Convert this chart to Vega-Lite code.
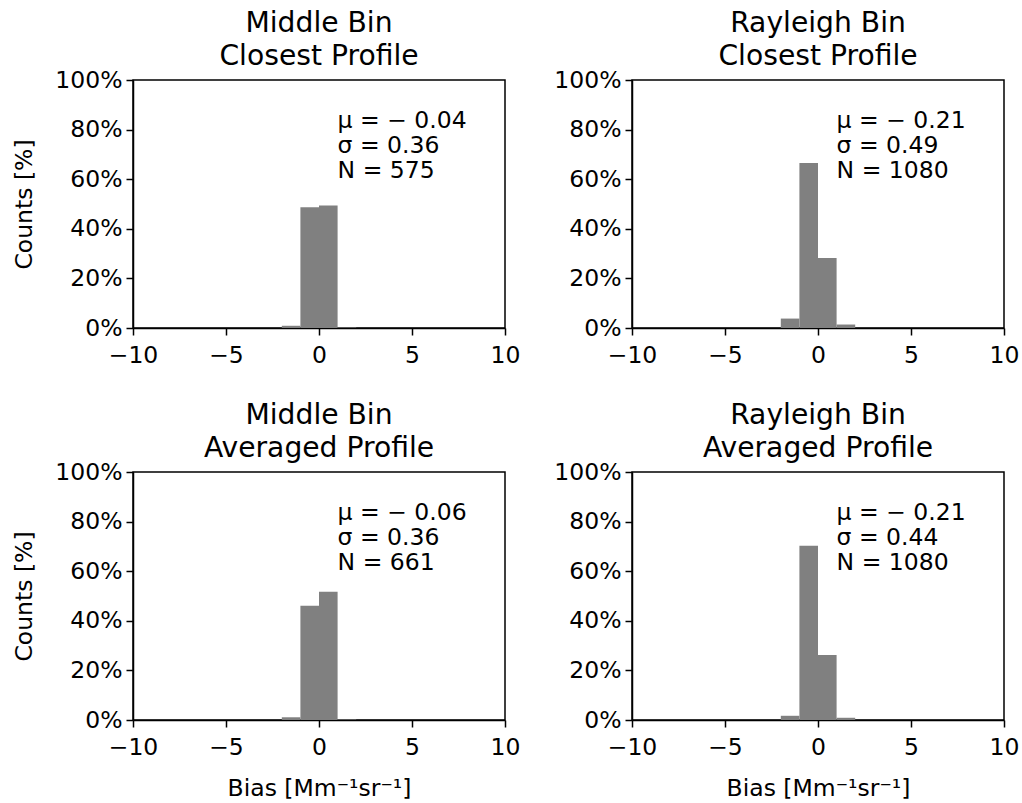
{
  "$schema": "https://vega.github.io/schema/vega-lite/v6.json",
  "background": "white",
  "padding": {"left": 12, "top": 8, "right": 5, "bottom": 5},
  "datasets": {
    "hist": [
      {"panel": "mc", "bin_start": -2, "bin_end": -1, "pct": 0.9},
      {"panel": "mc", "bin_start": -1, "bin_end": 0, "pct": 48.7},
      {"panel": "mc", "bin_start": 0, "bin_end": 1, "pct": 49.4},
      {"panel": "mc", "bin_start": 1, "bin_end": 2, "pct": 0.2},
      {"panel": "rc", "bin_start": -2, "bin_end": -1, "pct": 3.8},
      {"panel": "rc", "bin_start": -1, "bin_end": 0, "pct": 66.5},
      {"panel": "rc", "bin_start": 0, "bin_end": 1, "pct": 28.2},
      {"panel": "rc", "bin_start": 1, "bin_end": 2, "pct": 1.4},
      {"panel": "ma", "bin_start": -2, "bin_end": -1, "pct": 1.1},
      {"panel": "ma", "bin_start": -1, "bin_end": 0, "pct": 46.1},
      {"panel": "ma", "bin_start": 0, "bin_end": 1, "pct": 51.7},
      {"panel": "ma", "bin_start": 1, "bin_end": 2, "pct": 0.2},
      {"panel": "ra", "bin_start": -2, "bin_end": -1, "pct": 1.7},
      {"panel": "ra", "bin_start": -1, "bin_end": 0, "pct": 70.3},
      {"panel": "ra", "bin_start": 0, "bin_end": 1, "pct": 26.2},
      {"panel": "ra", "bin_start": 1, "bin_end": 2, "pct": 0.9}
    ]
  },
  "columns": 2,
  "bounds": "flush",
  "spacing": {"row": 144, "column": 127},
  "concat": [
    {
      "title": {"text": ["Middle Bin", "Closest Profile"]},
      "width": 372, "height": 248,
      "layer": [
        {
          "data": {"name": "hist"},
          "transform": [{"filter": "datum.panel === 'mc'"}],
          "mark": {"type": "rect", "color": "#808080"},
          "encoding": {
            "x": {"field": "bin_start", "type": "quantitative", "scale": {"domain": [-10, 10], "nice": false}, "axis": {"values": [-10, -5, 0, 5, 10], "title": null}},
            "x2": {"field": "bin_end"},
            "y": {"field": "pct", "type": "quantitative", "scale": {"domain": [0, 100], "nice": false}, "axis": {"values": [0, 20, 40, 60, 80, 100], "labelExpr": "datum.value + '%'", "title": "Counts [%]"}},
            "y2": {"datum": 0}
          }
        },
        {
          "data": {"values": [{}]},
          "mark": {"type": "text", "text": ["μ = − 0.04", "σ = 0.36", "N = 575"], "align": "left", "baseline": "alphabetic", "lineHeight": 25, "fontSize": 23.5, "color": "black"},
          "encoding": {"x": {"datum": 1, "type": "quantitative"}, "y": {"datum": 80.6, "type": "quantitative"}}
        }
      ]
    },
    {
      "title": {"text": ["Rayleigh Bin", "Closest Profile"]},
      "width": 372, "height": 248,
      "layer": [
        {
          "data": {"name": "hist"},
          "transform": [{"filter": "datum.panel === 'rc'"}],
          "mark": {"type": "rect", "color": "#808080"},
          "encoding": {
            "x": {"field": "bin_start", "type": "quantitative", "scale": {"domain": [-10, 10], "nice": false}, "axis": {"values": [-10, -5, 0, 5, 10], "title": null}},
            "x2": {"field": "bin_end"},
            "y": {"field": "pct", "type": "quantitative", "scale": {"domain": [0, 100], "nice": false}, "axis": {"values": [0, 20, 40, 60, 80, 100], "labelExpr": "datum.value + '%'", "title": null}},
            "y2": {"datum": 0}
          }
        },
        {
          "data": {"values": [{}]},
          "mark": {"type": "text", "text": ["μ = − 0.21", "σ = 0.49", "N = 1080"], "align": "left", "baseline": "alphabetic", "lineHeight": 25, "fontSize": 23.5, "color": "black"},
          "encoding": {"x": {"datum": 1, "type": "quantitative"}, "y": {"datum": 80.6, "type": "quantitative"}}
        }
      ]
    },
    {
      "title": {"text": ["Middle Bin", "Averaged Profile"]},
      "width": 372, "height": 248,
      "layer": [
        {
          "data": {"name": "hist"},
          "transform": [{"filter": "datum.panel === 'ma'"}],
          "mark": {"type": "rect", "color": "#808080"},
          "encoding": {
            "x": {"field": "bin_start", "type": "quantitative", "scale": {"domain": [-10, 10], "nice": false}, "axis": {"values": [-10, -5, 0, 5, 10], "title": "Bias [Mm⁻¹sr⁻¹]"}},
            "x2": {"field": "bin_end"},
            "y": {"field": "pct", "type": "quantitative", "scale": {"domain": [0, 100], "nice": false}, "axis": {"values": [0, 20, 40, 60, 80, 100], "labelExpr": "datum.value + '%'", "title": "Counts [%]"}},
            "y2": {"datum": 0}
          }
        },
        {
          "data": {"values": [{}]},
          "mark": {"type": "text", "text": ["μ = − 0.06", "σ = 0.36", "N = 661"], "align": "left", "baseline": "alphabetic", "lineHeight": 25, "fontSize": 23.5, "color": "black"},
          "encoding": {"x": {"datum": 1, "type": "quantitative"}, "y": {"datum": 80.6, "type": "quantitative"}}
        }
      ]
    },
    {
      "title": {"text": ["Rayleigh Bin", "Averaged Profile"]},
      "width": 372, "height": 248,
      "layer": [
        {
          "data": {"name": "hist"},
          "transform": [{"filter": "datum.panel === 'ra'"}],
          "mark": {"type": "rect", "color": "#808080"},
          "encoding": {
            "x": {"field": "bin_start", "type": "quantitative", "scale": {"domain": [-10, 10], "nice": false}, "axis": {"values": [-10, -5, 0, 5, 10], "title": "Bias [Mm⁻¹sr⁻¹]"}},
            "x2": {"field": "bin_end"},
            "y": {"field": "pct", "type": "quantitative", "scale": {"domain": [0, 100], "nice": false}, "axis": {"values": [0, 20, 40, 60, 80, 100], "labelExpr": "datum.value + '%'", "title": null}},
            "y2": {"datum": 0}
          }
        },
        {
          "data": {"values": [{}]},
          "mark": {"type": "text", "text": ["μ = − 0.21", "σ = 0.44", "N = 1080"], "align": "left", "baseline": "alphabetic", "lineHeight": 25, "fontSize": 23.5, "color": "black"},
          "encoding": {"x": {"datum": 1, "type": "quantitative"}, "y": {"datum": 80.6, "type": "quantitative"}}
        }
      ]
    }
  ],
  "config": {
    "font": "DejaVu Sans",
    "view": {"stroke": "black", "strokeWidth": 1.5},
    "axis": {
      "grid": false,
      "domainColor": "black",
      "domainWidth": 1.5,
      "tickColor": "black",
      "tickWidth": 1.5,
      "tickSize": 7,
      "labelFontSize": 23.5,
      "labelColor": "black",
      "labelPadding": 4,
      "labelFlush": false,
      "labelOverlap": false,
      "titleFontSize": 23.5,
      "titleFontWeight": "normal",
      "titleColor": "black"
    },
    "axisY": {"titlePadding": 18},
    "axisX": {"titlePadding": 18, "labelPadding": 8},
    "title": {"fontSize": 28.2, "fontWeight": "normal", "color": "black", "offset": -3, "lineHeight": 33, "anchor": "middle"}
  }
}
